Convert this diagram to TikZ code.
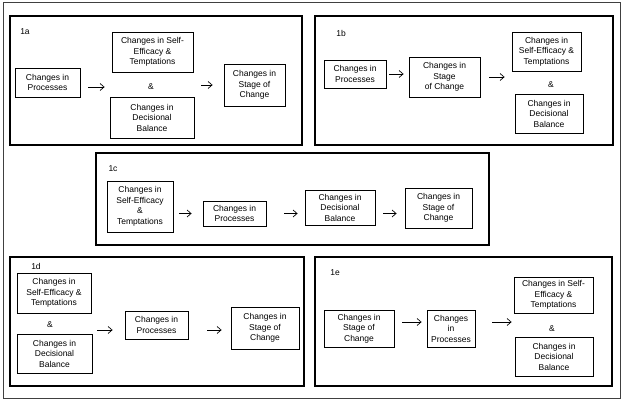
\documentclass[tikz,border=0pt]{standalone}
\usepackage{fontspec}
\setmainfont{Liberation Sans}
\usetikzlibrary{arrows.meta}

\tikzset{
  box/.style={draw, line width=0.8pt, align=center, inner sep=1pt,
    font=\fontsize{8.5}{10.5}\selectfont},
  panel/.style={draw, line width=2.2pt},
  flow/.style={line width=0.7pt, -{Straight Barb[length=4pt,width=7pt]}},
  txt/.style={font=\fontsize{8.5}{10.5}\selectfont, inner sep=0pt}
}

\begin{document}
\begin{tikzpicture}[x=1pt,y=-1pt]
\useasboundingbox (0,0) rectangle (625,403);

% outer frame
\draw[black!75, line width=1pt] (3,3) rectangle (620,399);

% panel frames
\foreach \xa/\ya/\xb/\yb in
{10/16/302/145,315/16/613/145,96/153/489/245,10/257/304/386,315/257/612/386}
\draw[panel] (\xa,\ya) rectangle (\xb,\yb);

% panel labels
\foreach \x/\y/\descr in {25/32/1a,341/33/1b,113/169/1c,36/266/1d,335/273/1e}
\node[txt] (lab\descr) at (\x,\y) {\descr};

% PANEL 1a
\node[box, minimum width=65, minimum height=29] (p1a) at (47.5,82.5) {Changes in\\Processes};
\node[box, minimum width=81, minimum height=40] (se1a) at (152.5,52) {Changes in Self-\\Efficacy \&\\Temptations};
\node[txt] (amp1a) at (151,87) {\&};
\node[box, minimum width=84, minimum height=41] (db1a) at (152,117.5) {Changes in\\Decisional\\Balance};
\node[box, minimum width=61, minimum height=42] (st1a) at (254.5,85) {Changes in\\Stage of\\Change};
\draw[flow, shorten <=8, shorten >=5] (p1a.east |- amp1a) -- (amp1a -| db1a.west);
\draw[flow, shorten <=7, shorten >=11] (st1a.west -| db1a.east) -- (st1a.west);

% PANEL 1b
\node[box, minimum width=62, minimum height=28] (p1b) at (355,74) {Changes in\\Processes};
\node[box, minimum width=71, minimum height=40] (st1b) at (444.5,77) {Changes in\\Stage\\of Change};
\node[box, minimum width=69, minimum height=39] (se1b) at (546.5,51.5) {Changes in\\Self-Efficacy \&\\Temptations};
\node[txt] (amp1b) at (551,85) {\&};
\node[box, minimum width=68, minimum height=39] (db1b) at (549,113.5) {Changes in\\Decisional\\Balance};
\draw[flow, shorten <=3, shorten >=5] (p1b.east) -- (p1b.east -| st1b.west);
\draw[flow, shorten <=9, shorten >=7] (st1b.east) -- (st1b.east -| se1b.west);

% PANEL 1c
\node[box, minimum width=66, minimum height=51] (se1c) at (140,206.5) {Changes in\\Self-Efficacy\\\&\\Temptations};
\node[box, minimum width=63, minimum height=25] (p1c) at (234.5,213.5) {Changes in\\Processes};
\node[box, minimum width=70, minimum height=35] (db1c) at (340,207.5) {Changes in\\Decisional\\Balance};
\node[box, minimum width=67, minimum height=40] (st1c) at (438.5,208) {Changes in\\Stage of\\Change};
\draw[flow, shorten <=6, shorten >=11] (se1c.east |- p1c) -- (p1c.west);
\draw[flow, shorten <=18, shorten >=7] (p1c.east) -- (p1c.east -| db1c.west);
\draw[flow, shorten <=8, shorten >=8] (db1c.east |- p1c) -- (st1c.west |- p1c);

% PANEL 1d
\node[box, minimum width=74, minimum height=40] (se1d) at (54,293) {Changes in\\Self-Efficacy \&\\Temptations};
\node[txt] (amp1d) at (50,325) {\&};
\node[box, minimum width=75, minimum height=39] (db1d) at (54.5,353.5) {Changes in\\Decisional\\Balance};
\node[box, minimum width=63, minimum height=28] (p1d) at (156.5,325) {Changes in\\Processes};
\node[box, minimum width=68, minimum height=42] (st1d) at (265,328) {Changes in\\Stage of\\Change};
\draw[flow, shorten <=5, shorten >=12] ([yshift=-5pt]p1d.west -| db1d.east) -- ([yshift=-5pt]p1d.west);
\draw[flow, shorten <=19, shorten >=9] ([yshift=-5pt]p1d.east) -- ([yshift=-5pt]p1d.east -| st1d.west);

% PANEL 1e
\node[box, minimum width=70, minimum height=37] (st1e) at (359,328.5) {Changes in\\Stage of\\Change};
\node[box, minimum width=48, minimum height=37] (p1e) at (451,328.5) {Changes\\in\\Processes};
\node[box, minimum width=79, minimum height=36] (se1e) at (553.5,295) {Changes in Self-\\Efficacy \&\\Temptations};
\node[txt] (amp1e) at (552,329) {\&};
\node[box, minimum width=78, minimum height=39] (db1e) at (554,356.5) {Changes in\\Decisional\\Balance};
\draw[flow, shorten <=8, shorten >=5] ([yshift=6.5pt]st1e.east) -- ([yshift=6.5pt]st1e.east -| p1e.west);
\draw[flow, shorten <=17, shorten >=2] ([yshift=6.5pt]p1e.east) -- ([yshift=6.5pt]p1e.east -| se1e.west);

\end{tikzpicture}
\end{document}
